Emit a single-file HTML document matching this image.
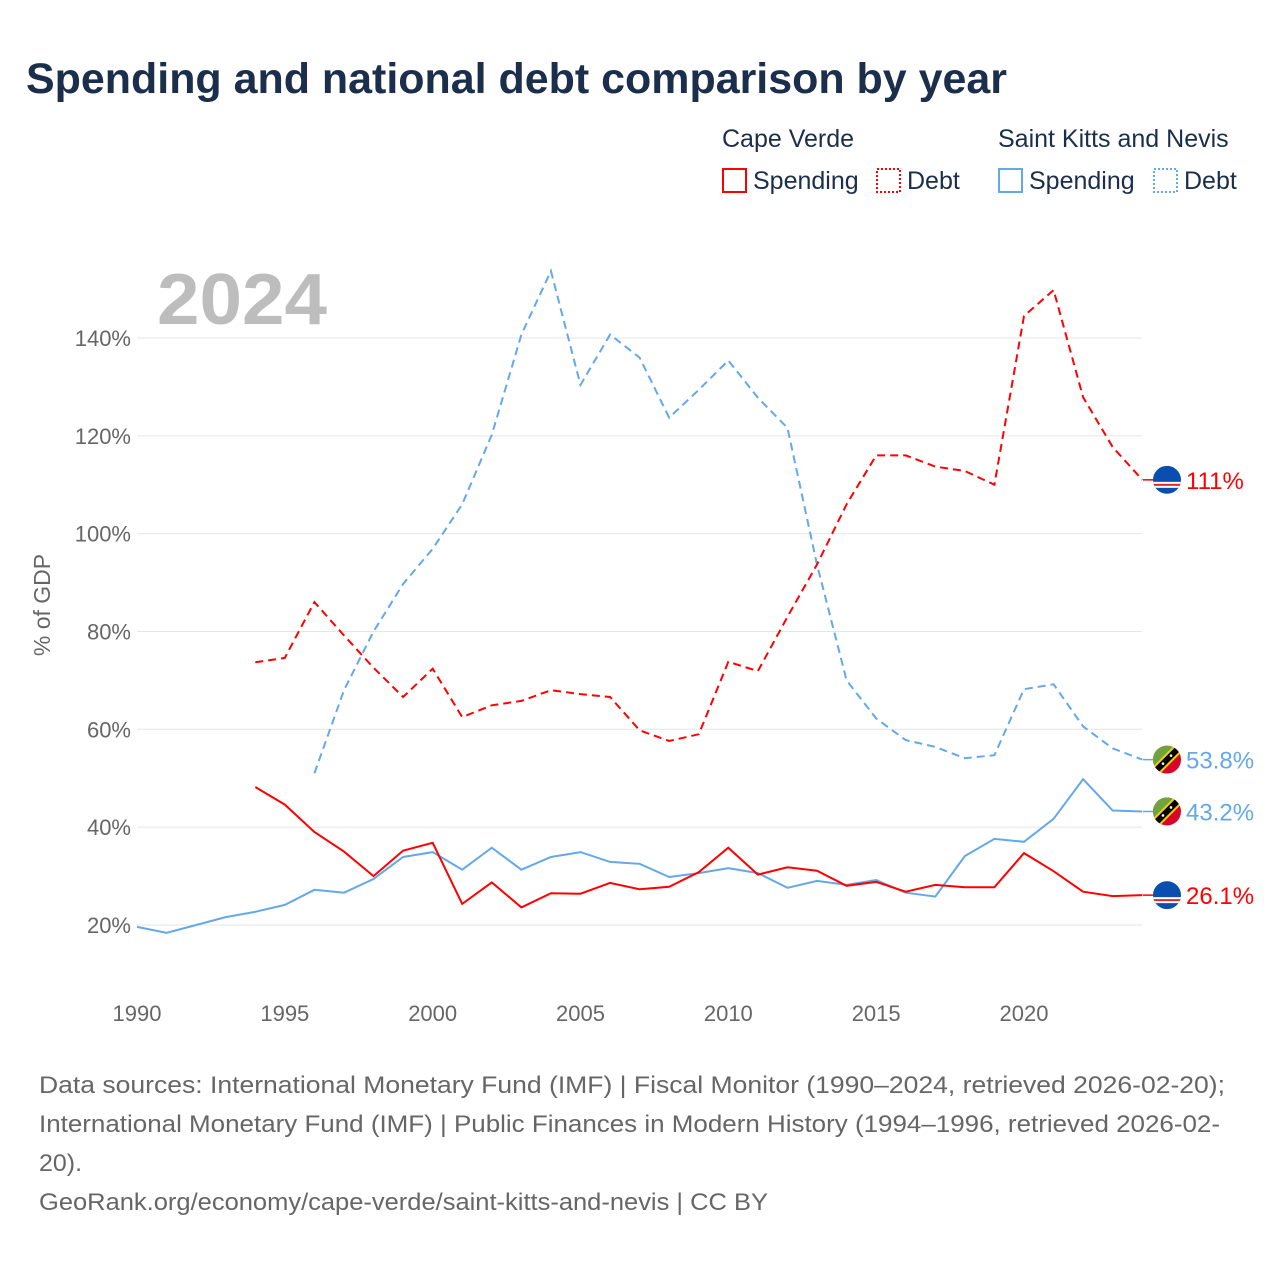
<!DOCTYPE html>
<html><head><meta charset="utf-8"><style>
body{margin:0;background:#fff;font-family:"Liberation Sans",sans-serif;}
</style></head><body>
<svg id="c" width="1280" height="1280" xmlns="http://www.w3.org/2000/svg">
<defs>
<clipPath id="fc"><circle r="14" cx="0" cy="0"/></clipPath>
<g id="cvflag"><g clip-path="url(#fc)"><rect x="-14" y="-14" width="28" height="28" fill="#0a4fb0"/><rect x="-14" y="2" width="28" height="6" fill="#fff"/><rect x="-14" y="4" width="28" height="2" fill="#e1252b"/></g></g>
<g id="knflag"><g clip-path="url(#fc)"><rect x="-14" y="-14" width="28" height="28" fill="#d6062b"/><polygon points="-14,-14 14,-14 -14,14" fill="#6ea43e"/><line x1="-16" y1="16" x2="16" y2="-16" stroke="#f5d000" stroke-width="10"/><line x1="-16" y1="16" x2="16" y2="-16" stroke="#000" stroke-width="6"/><circle cx="-4" cy="4" r="1.3" fill="#fff"/><circle cx="4" cy="-4" r="1.3" fill="#fff"/></g></g>
</defs>
<text x="26" y="93" font-size="43" font-weight="bold" fill="#1b2e4b" textLength="981" lengthAdjust="spacingAndGlyphs">Spending and national debt comparison by year</text>
<g font-size="25" fill="#1b2e4b">
<text x="722" y="147">Cape Verde</text>
<text x="998" y="147">Saint Kitts and Nevis</text>
<rect x="723" y="169" width="23" height="23" fill="none" stroke="#f00" stroke-width="2"/>
<text x="753" y="189">Spending</text>
<rect x="877" y="169" width="23" height="23" fill="none" stroke="#f00" stroke-width="2" stroke-dasharray="2,2"/>
<text x="907" y="189">Debt</text>
<rect x="999" y="169" width="23" height="23" fill="none" stroke="#64a8ea" stroke-width="2"/>
<text x="1029" y="189">Spending</text>
<rect x="1154" y="169" width="23" height="23" fill="none" stroke="#64a8ea" stroke-width="2" stroke-dasharray="2,2"/>
<text x="1184" y="189">Debt</text>
</g>
<text x="157" y="324" font-size="72" font-weight="bold" fill="#bdbdbd" textLength="170" lengthAdjust="spacingAndGlyphs">2024</text>
<text transform="translate(50,605) rotate(-90)" text-anchor="middle" font-size="23" fill="#666">% of GDP</text>
<g id="grid"></g><g id="series"></g><g id="ends"></g>
<g font-size="24" fill="#666">
<text x="39" y="1093" textLength="1186" lengthAdjust="spacingAndGlyphs">Data sources: International Monetary Fund (IMF) | Fiscal Monitor (1990–2024, retrieved 2026-02-20);</text>
<text x="39" y="1132" textLength="1181" lengthAdjust="spacingAndGlyphs">International Monetary Fund (IMF) | Public Finances in Modern History (1994–1996, retrieved 2026-02-</text>
<text x="39" y="1171" textLength="43" lengthAdjust="spacingAndGlyphs">20).</text>
<text x="39" y="1210" textLength="729" lengthAdjust="spacingAndGlyphs">GeoRank.org/economy/cape-verde/saint-kitts-and-nevis | CC BY</text>
</g>
</svg>
<script>
const yTicks=[20,40,60,80,100,120,140];
const xTicks=[1990,1995,2000,2005,2010,2015,2020];
const cvSpendStart=1994;
const cvSpending=[48.2,44.6,39,35,30,35.2,36.8,24.3,28.7,23.6,26.5,26.4,28.6,27.3,27.8,30.8,35.8,30.3,31.8,31.1,28,28.8,26.8,28.2,27.7,27.7,34.7,31,26.8,25.9,26.1];
const cvDebtStart=1994;
const cvDebt=[73.7,74.6,86,79.2,72.6,66.6,72.4,62.5,64.9,65.8,68,67.2,66.6,59.8,57.6,59,73.8,71.9,83,93.7,106,116,116,113.7,112.8,110,144.5,149.8,127.9,117.7,111];
const knDebtStart=1996;
const knDebt=[51,68,80,89.7,96.9,106,120.2,140.7,153.7,130.4,140.7,136,123.7,129.4,135.4,127.8,121.6,93.7,70,62.2,57.8,56.4,54.1,54.7,68.2,69.2,60.6,56.1,53.8];
const knSpendStart=1990;
const knSpending=[19.6,18.4,20,21.6,22.7,24.1,27.2,26.6,29.4,33.9,34.9,31.3,35.8,31.3,33.9,34.9,32.9,32.5,29.8,30.6,31.6,30.6,27.6,29,28.2,29.2,26.6,25.8,34.1,37.6,37,41.7,49.8,43.4,43.2];
const NS="http://www.w3.org/2000/svg";
const X=yr=>137+(yr-1990)*(887/30);
const Y=v=>1022.8-v*4.8915;
function mk(t,a,p){const e=document.createElementNS(NS,t);for(const k in a)e.setAttribute(k,a[k]);p.appendChild(e);return e;}
const grid=document.getElementById('grid');
yTicks.forEach(v=>{
 const l=mk('line',{x1:137,x2:1142,y1:Y(v),y2:Y(v),stroke:'#e6e6e6','stroke-width':1},grid);
 
 
 const t=mk('text',{x:131,y:Y(v)+8,'text-anchor':'end','font-size':22,fill:'#666'},grid);
 t.textContent=v+'%';
 
 
});
xTicks.forEach(yr=>{
 const t=mk('text',{x:X(yr),y:1021,'text-anchor':'middle','font-size':22,fill:'#666'},grid);
 t.textContent=yr;
 
 
});
const ser=document.getElementById('series');
function line(vals,start,color,dash,name){
 const d=vals.map((v,i)=>(i?'L':'M')+X(start+i).toFixed(1)+','+Y(v).toFixed(1)).join('');
 const p=mk('path',{d:d,fill:'none',stroke:color,'stroke-width':2,'stroke-dasharray':dash||'none'},ser);
 
 
}
line(knSpending,knSpendStart,'#64a8ea','','line-kn-spending');
line(knDebt,knDebtStart,'#64a8ea','8,5','line-kn-debt');
line(cvSpending,cvSpendStart,'#f00','','line-cv-spending');
line(cvDebt,cvDebtStart,'#f00','8,5','line-cv-debt');
const ends=document.getElementById('ends');
function end(v,flag,color,label,name){
 const y=Y(v);
 mk('line',{x1:1143,x2:1153,y1:y,y2:y,stroke:color,'stroke-width':1.5},ends);
 const u=mk('use',{href:'#'+flag,x:1167,y:y},ends);
 
 
 const t=mk('text',{x:1186,y:y+9,'font-size':24,fill:color},ends);
 t.textContent=label;
 
 
}
end(cvDebt[cvDebt.length-1],'cvflag','#f00',Math.round(cvDebt[cvDebt.length-1])+'%','end-cv-debt');
end(knDebt[knDebt.length-1],'knflag','#64a8ea',knDebt[knDebt.length-1].toFixed(1)+'%','end-kn-debt');
end(knSpending[knSpending.length-1],'knflag','#64a8ea',knSpending[knSpending.length-1].toFixed(1)+'%','end-kn-spending');
end(cvSpending[cvSpending.length-1],'cvflag','#f00',cvSpending[cvSpending.length-1].toFixed(1)+'%','end-cv-spending');
</script>
</body></html>
